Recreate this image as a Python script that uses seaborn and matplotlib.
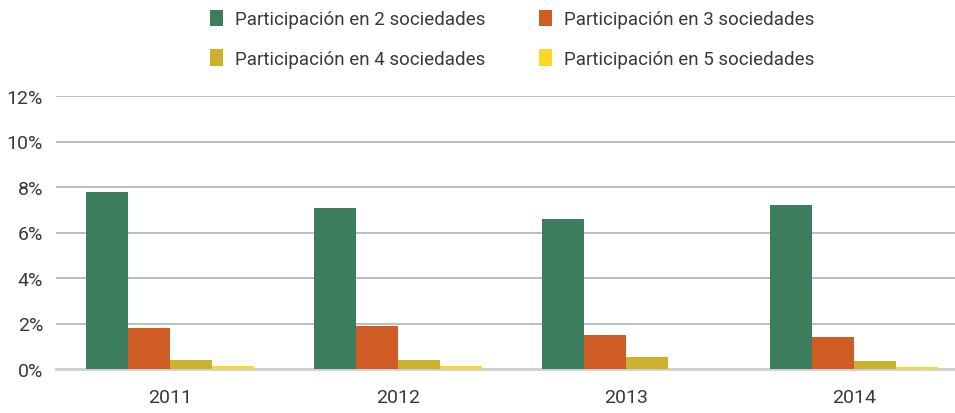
import matplotlib
matplotlib.use("Agg")
import matplotlib.pyplot as plt
from matplotlib.patches import Patch
import seaborn as sns
import pandas as pd

years = ["2011", "2012", "2013", "2014"]
series = ["Participación en 2 sociedades", "Participación en 3 sociedades",
          "Participación en 4 sociedades", "Participación en 5 sociedades"]
part2 = [0.0778, 0.0708, 0.0659, 0.0721]
part3 = [0.0180, 0.0189, 0.0149, 0.0141]
part4 = [0.0040, 0.0040, 0.0053, 0.0035]
part5 = [0.0013, 0.0013, 0.0000, 0.0009]
colors = ["#3B7D5D", "#D05C25", "#CCB22C", "#FDD726"]
yticks = [0, 0.02, 0.04, 0.06, 0.08, 0.10, 0.12]
ytick_labels = ["0%", "2%", "4%", "6%", "8%", "10%", "12%"]

rows = []
for s, vals in zip(series, [part2, part3, part4, part5]):
    for y, v in zip(years, vals):
        rows.append({"year": y, "serie": s, "value": v})
df = pd.DataFrame(rows)

sns.set_theme(style="white")
plt.rcParams["font.family"] = ["Roboto", "DejaVu Sans"]

fig = plt.figure(figsize=(9.55, 4.14), dpi=100)
ax = fig.add_axes([55.5 / 955, 44 / 414, 913 / 955, 273 / 414])

sns.barplot(data=df, x="year", y="value", hue="serie", order=years,
            hue_order=series, palette=colors, width=0.735, saturation=1,
            errorbar=None, ax=ax, legend=False, zorder=3, linewidth=0)

ax.set_ylim(0, 0.12)
ax.set_xlim(-0.5, 3.5)
ax.set_yticks(yticks)
ax.set_yticklabels(ytick_labels)
ax.set_xlabel("")
ax.set_ylabel("")
ax.yaxis.grid(True, color="#b8b8b8", linewidth=1.3, zorder=0)
ax.set_axisbelow(True)
for sp in ["top", "right", "left"]:
    ax.spines[sp].set_visible(False)
ax.spines["bottom"].set_color("#d0d0d0")
ax.spines["bottom"].set_linewidth(2)
ax.spines["bottom"].set_zorder(2)
ax.tick_params(axis="y", length=0, pad=9, labelsize=14, labelcolor="#3a3a3a")
ax.tick_params(axis="x", length=0, pad=14, labelsize=14, labelcolor="#3a3a3a")

# legend filled row-wise: column-major order for ncol=2
order = [0, 2, 1, 3]
handles = [Patch(facecolor=colors[i], edgecolor="none") for i in order]
labels = [series[i] for i in order]
leg = fig.legend(handles, labels, loc="upper center", bbox_to_anchor=(0.536, 1.015),
                 ncol=2, frameon=False, fontsize=13.5, handlelength=0.72,
                 handleheight=1.0, handletextpad=0.62, columnspacing=2.85,
                 labelspacing=1.1)
for t in leg.get_texts():
    t.set_color("#3a3a3a")

fig.savefig("out.png", dpi=100)
